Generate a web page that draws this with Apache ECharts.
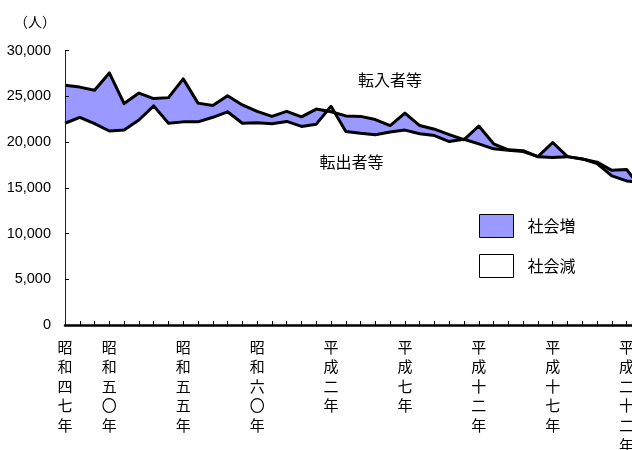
<!DOCTYPE html>
<html>
<head>
<meta charset="utf-8">
<script src="https://cdn.jsdelivr.net/npm/echarts@6/dist/echarts.min.js"></script>
<style>
html,body{margin:0;padding:0;background:#fff;}
#chart{width:632px;height:450px;}
</style>
</head>
<body>
<div id="chart"></div>
<script>
const years = [1972,1973,1974,1975,1976,1977,1978,1979,1980,1981,1982,1983,1984,1985,1986,1987,1988,1989,1990,1991,
  1992,1993,1994,1995,1996,1997,1998,1999,2000,2001,2002,2003,2004,2005,2006,2007,2008,2009,2010,2011];
const inflow = [26200,26000,25650,27550,24200,25350,24750,24850,26900,24250,24000,25050,24050,23350,22800,23350,22750,23600,23300,22850,
  22800,22450,21800,23150,21800,21400,20800,20250,21750,19800,19150,19050,18400,19950,18400,18150,17800,16900,17000,14900];
const outflow = [22050,22700,22000,21200,21300,22400,23950,22050,22200,22200,22700,23300,22050,22100,22000,22250,21700,21950,23900,21150,
  20950,20800,21100,21300,20900,20700,20050,20300,19800,19250,19100,18950,18400,18300,18400,18150,17650,16300,15750,15600];
const tickYears = [1972,1975,1980,1985,1990,1995,2000,2005,2010];
const tickLabels = ['昭和四七年','昭和五〇年','昭和五五年','昭和六〇年','平成二年','平成七年','平成十二年','平成十七年','平成二十二年'];
const yTicks = [0,5000,10000,15000,20000,25000,30000];
const seriesNames = ['社会増','社会減'];
const lineNames = ['転入者等','転出者等'];

const CJK = '"Noto Sans CJK JP", sans-serif';
const chart = echarts.init(document.getElementById('chart'));
chart.setOption({
  animation:false,
  backgroundColor:'#fff',
  grid:{left:65, top:50.5, width:576.4, height:274.5, containLabel:false, outerBoundsMode:'none'},
  legend:{
    orient:'vertical', left:474, top:209, itemWidth:34, itemHeight:23, itemGap:16,
    icon:'rect', selectedMode:false,
    itemStyle:{borderColor:'#000', borderWidth:1},
    textStyle:{fontFamily:CJK, fontSize:16, color:'#000', padding:[0,0,0,9]},
    data:seriesNames
  },
  xAxis:{
    type:'category', data:years.map(String), boundaryGap:false, z:5,
    axisLine:{lineStyle:{color:'#000', width:2.5}},
    axisTick:{inside:true, length:4, interval:0, lineStyle:{color:'#000', width:1}},
    axisLabel:{
      interval:(i,v)=>tickYears.indexOf(+v)>=0,
      margin:12, fontFamily:CJK, fontSize:15, lineHeight:19.6, color:'#000',
      formatter:v=>{const k=tickYears.indexOf(+v);return k>=0?tickLabels[k].split('').join('\n'):'';}
    },
    splitLine:{show:false}
  },
  yAxis:{
    type:'value', min:0, max:30000, interval:5000, z:5,
    axisLine:{show:true, lineStyle:{color:'#222', width:1}},
    axisTick:{show:true, inside:true, length:4, lineStyle:{color:'#000'}},
    axisLabel:{margin:14, fontFamily:'"Liberation Sans", Arial, sans-serif', fontSize:14.5, color:'#000',
      formatter:v=>yTicks.indexOf(v)>=0?v.toLocaleString('en-US'):''},
    splitLine:{show:false}
  },
  graphic:[
    {type:'text', z:20, left:14, top:15, style:{text:'（人）', font:'14px '+CJK, fill:'#000'}},
    {type:'text', z:20, x:390, y:80, style:{text:lineNames[0], font:'16px '+CJK, fill:'#000', align:'center', verticalAlign:'middle'}},
    {type:'text', z:20, x:351.5, y:162, style:{text:lineNames[1], font:'16px '+CJK, fill:'#000', align:'center', verticalAlign:'middle'}}
  ],
  series:[
    {name:seriesNames[0], type:'line', data:inflow, symbol:'none', z:1,
     itemStyle:{color:'#9999ff'}, lineStyle:{width:0}, areaStyle:{color:'#9999ff', opacity:1}},
    {name:seriesNames[1], type:'line', data:outflow, symbol:'none', z:2,
     itemStyle:{color:'#ffffff'}, lineStyle:{width:0}, areaStyle:{color:'#ffffff', opacity:1}},
    {name:lineNames[0], type:'line', data:inflow, symbol:'none', z:3,
     lineStyle:{color:'#000', width:3, join:'round'}},
    {name:lineNames[1], type:'line', data:outflow, symbol:'none', z:3,
     lineStyle:{color:'#000', width:3, join:'round'}}
  ]
});
</script>
</body>
</html>
